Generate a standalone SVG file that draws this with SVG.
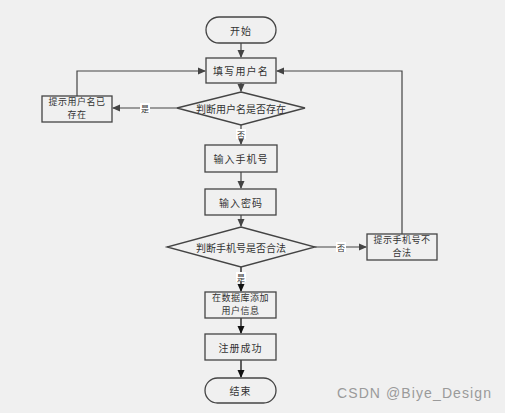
<svg xmlns="http://www.w3.org/2000/svg" width="505" height="413" viewBox="0 0 505 413">
<defs>
<marker id="ah" markerWidth="8" markerHeight="8" refX="7" refY="4" orient="auto" markerUnits="userSpaceOnUse"><path d="M0,0.5 L8,4 L0,7.5 Z" fill="#444"/></marker>
<marker id="ahk" markerWidth="8" markerHeight="8" refX="7" refY="4" orient="auto" markerUnits="userSpaceOnUse"><path d="M0,0.5 L8,4 L0,7.5 Z" fill="#111"/></marker>
<style>
.n{fill:#f0f0f0;stroke:#444;stroke-width:1.3}
.t{font-family:"Noto Sans CJK SC","Noto Sans",sans-serif;font-size:10px;fill:#333;text-anchor:middle;dominant-baseline:central}
.t2{font-family:"Noto Sans CJK SC","Noto Sans",sans-serif;font-size:9px;fill:#333;text-anchor:middle}
.c{fill:none;stroke:#444;stroke-width:1.2}
.k{fill:none;stroke:#111;stroke-width:1.3}
.lb{fill:#fff}
.l{font-family:"Noto Sans CJK SC",sans-serif;font-size:8px;fill:#333;text-anchor:middle;dominant-baseline:central}
</style>
</defs>
<rect width="505" height="413" fill="#f0f0f0"/>
<g id="connectors">
<path class="c" d="M241,43 V57" marker-end="url(#ah)"/>
<path class="c" d="M241,83 V91" marker-end="url(#ah)"/>
<path class="c" d="M241,125 V144" marker-end="url(#ah)"/>
<path class="c" d="M177,108 H113" marker-end="url(#ah)"/>
<path class="c" d="M77,96 V71 H205" marker-end="url(#ah)"/>
<path class="c" d="M241,172 V188" marker-end="url(#ah)"/>
<path class="c" d="M241,215 V226" marker-end="url(#ah)"/>
<path class="c" d="M315,247 H366" marker-end="url(#ah)"/>
<path class="c" d="M402,234 V71 H277" marker-end="url(#ah)"/>
<path class="k" d="M241,267 V291" marker-end="url(#ahk)"/>
<path class="k" d="M241,318 V333" marker-end="url(#ahk)"/>
<path class="k" d="M241,360 V377" marker-end="url(#ahk)"/>
<rect class="lb" x="236" y="129" width="10" height="10"/>
<text class="l" x="241" y="134">否</text>
<rect class="lb" x="140" y="103" width="10" height="10"/>
<text class="l" x="145" y="108">是</text>
<rect class="lb" x="336" y="242" width="10" height="10"/>
<text class="l" x="341" y="247">否</text>
<rect class="lb" x="236" y="272" width="10" height="10"/>
<text class="l" x="241" y="277">是</text>
</g>
<g id="start"><rect class="n" x="206" y="17" width="70" height="26" rx="13"/><text class="t" x="241" y="30" letter-spacing="1">开始</text></g>
<g id="fill-username"><rect class="n" x="206" y="58" width="70" height="25"/><text class="t" x="241" y="70.5" letter-spacing="1.2">填写用户名</text></g>
<g id="check-username"><polygon class="n" points="241,92 305,108 241,125 177,108"/><text class="t" x="241" y="108.5">判断用户名是否存在</text></g>
<g id="username-exists"><rect class="n" x="42" y="96" width="70" height="26"/><text class="t2" letter-spacing="0.5"><tspan x="77" y="104.5">提示用户名已</tspan><tspan x="77" y="118">存在</tspan></text></g>
<g id="input-phone"><rect class="n" x="205" y="145" width="72" height="27"/><text class="t" x="241" y="158.5" letter-spacing="1">输入手机号</text></g>
<g id="input-password"><rect class="n" x="205" y="189" width="71" height="26"/><text class="t" x="241" y="202" letter-spacing="1">输入密码</text></g>
<g id="check-phone"><polygon class="n" points="241,227 315,247 241,267 167,247"/><text class="t" x="241" y="247.5">判断手机号是否合法</text></g>
<g id="phone-invalid"><rect class="n" x="367" y="234" width="70" height="26"/><text class="t2" letter-spacing="0.5"><tspan x="402" y="242.5">提示手机号不</tspan><tspan x="402" y="256">合法</tspan></text></g>
<g id="add-user"><rect class="n" x="205" y="292" width="71" height="26"/><text class="t2" letter-spacing="0.5"><tspan x="240.5" y="300.5">在数据库添加</tspan><tspan x="240.5" y="314">用户信息</tspan></text></g>
<g id="register-ok"><rect class="n" x="205" y="334" width="71" height="26"/><text class="t" x="240.5" y="347" letter-spacing="1">注册成功</text></g>
<g id="end"><rect class="n" x="205" y="378" width="71" height="25" rx="12.5"/><text class="t" x="240.5" y="390.5" letter-spacing="1">结束</text></g>
<text x="337" y="398" font-family="Liberation Sans,Arial,sans-serif" font-size="14" letter-spacing="1.1" fill="#9a9a9a">CSDN @Biye_Design</text>
</svg>
